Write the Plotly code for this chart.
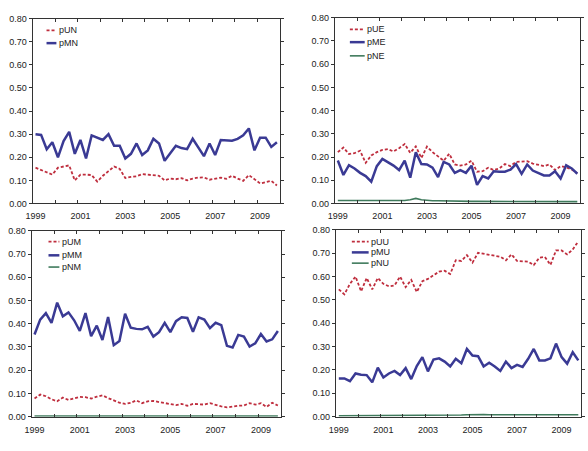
import plotly.graph_objects as go

W, H = 588, 451

years = ["1999", "2001", "2003", "2005", "2007", "2009"]
n_q = 44  # quarterly, 1999Q1 - 2009Q4
quarters = list(range(n_q))

pUN = [0.155,0.145,0.135,0.125,0.155,0.160,0.165,0.100,0.125,0.125,0.123,0.095,0.120,0.140,0.160,0.150,
       0.110,0.115,0.118,0.127,0.125,0.123,0.120,0.100,0.108,0.105,0.110,0.100,0.108,0.112,0.113,0.103,
       0.108,0.112,0.107,0.120,0.108,0.098,0.123,0.105,0.087,0.092,0.098,0.078]
pMN = [0.300,0.297,0.235,0.265,0.200,0.270,0.310,0.215,0.275,0.195,0.295,0.285,0.275,0.300,0.250,0.250,
       0.195,0.215,0.260,0.210,0.230,0.280,0.260,0.185,0.215,0.250,0.240,0.235,0.280,0.245,0.205,0.260,
       0.210,0.275,0.275,0.272,0.280,0.295,0.325,0.230,0.285,0.285,0.245,0.265]

pUE = [0.221,0.241,0.213,0.217,0.227,0.175,0.207,0.221,0.231,0.234,0.224,0.238,0.256,0.218,0.246,0.196,
       0.245,0.221,0.203,0.184,0.214,0.168,0.163,0.168,0.184,0.137,0.139,0.154,0.144,0.151,0.170,0.161,
       0.179,0.179,0.182,0.172,0.165,0.161,0.168,0.144,0.161,0.156,0.146,0.130]
pME = [0.185,0.123,0.165,0.151,0.132,0.118,0.094,0.161,0.192,0.179,0.163,0.144,0.185,0.111,0.221,0.170,
       0.168,0.154,0.114,0.179,0.168,0.132,0.144,0.132,0.163,0.080,0.118,0.108,0.139,0.137,0.137,0.146,
       0.170,0.128,0.168,0.142,0.132,0.121,0.121,0.139,0.108,0.165,0.151,0.128]
pNE = [0.013,0.013,0.012,0.012,0.013,0.011,0.014,0.012,0.013,0.012,0.013,0.012,0.013,0.016,0.022,0.016,
       0.013,0.012,0.012,0.011,0.011,0.011,0.010,0.010,0.009,0.009,0.009,0.009,0.008,0.008,0.008,0.009,
       0.008,0.009,0.009,0.010,0.010,0.009,0.009,0.008,0.009,0.010,0.009,0.008]

pUM = [0.078,0.095,0.088,0.075,0.066,0.082,0.072,0.080,0.085,0.084,0.078,0.086,0.092,0.080,0.070,0.060,
       0.055,0.060,0.070,0.058,0.066,0.068,0.063,0.058,0.054,0.050,0.055,0.047,0.055,0.052,0.052,0.058,
       0.050,0.044,0.040,0.044,0.047,0.048,0.058,0.052,0.058,0.042,0.060,0.048]
pMM = [0.354,0.418,0.446,0.404,0.491,0.432,0.449,0.415,0.369,0.446,0.347,0.392,0.330,0.429,0.308,0.326,
       0.443,0.383,0.378,0.376,0.387,0.345,0.364,0.404,0.364,0.411,0.428,0.425,0.366,0.428,0.418,0.381,
       0.404,0.394,0.305,0.298,0.352,0.345,0.302,0.316,0.356,0.324,0.333,0.369]
pNM = [0.003,0.003,0.003,0.003,0.003,0.003,0.003,0.003,0.003,0.003,0.003,0.003,0.003,0.003,0.003,0.003,
       0.003,0.003,0.003,0.003,0.003,0.003,0.003,0.003,0.003,0.003,0.003,0.003,0.003,0.003,0.003,0.003,
       0.003,0.003,0.003,0.003,0.003,0.003,0.003,0.003,0.003,0.004,0.004,0.003]

pUU = [0.545,0.524,0.569,0.600,0.537,0.594,0.545,0.594,0.569,0.558,0.562,0.600,0.555,0.586,0.534,0.580,
       0.590,0.604,0.621,0.625,0.611,0.670,0.667,0.692,0.660,0.702,0.698,0.695,0.688,0.685,0.670,0.695,
       0.667,0.664,0.664,0.649,0.681,0.684,0.650,0.712,0.712,0.695,0.716,0.751]
pMU = [0.164,0.164,0.152,0.185,0.180,0.178,0.147,0.210,0.168,0.185,0.196,0.178,0.208,0.161,0.217,0.255,
       0.194,0.245,0.250,0.236,0.215,0.248,0.229,0.290,0.262,0.259,0.215,0.231,0.215,0.196,0.236,0.208,
       0.222,0.213,0.248,0.290,0.241,0.241,0.250,0.313,0.255,0.227,0.276,0.241]
pNU = [0.004,0.004,0.004,0.004,0.005,0.005,0.005,0.005,0.005,0.005,0.006,0.006,0.006,0.006,0.006,0.006,
       0.006,0.006,0.006,0.007,0.007,0.007,0.007,0.008,0.009,0.010,0.009,0.008,0.008,0.007,0.007,0.007,
       0.007,0.007,0.007,0.007,0.007,0.007,0.008,0.008,0.008,0.008,0.008,0.008]

RED, BLUE, GREEN = "#bf2e3e", "#3a3a94", "#3f7a5c"
styles = {
    "U": dict(color=RED, width=1.8, dash="3px,2px"),
    "M": dict(color=BLUE, width=2.5),
    "N": dict(color=GREEN, width=1.6),
}

panels = [
    # (series list, pixel box x0,x1,y0(top),y1(bottom), legend x0,x1, legend ys)
    ([("pUN", pUN, "U"), ("pMN", pMN, "M")], (26, 276, 14, 203), (40, 50), (26, 39)),
    ([("pUE", pUE, "U"), ("pME", pME, "M"), ("pNE", pNE, "N")], (332, 580, 13, 203), (347, 362), (25, 38, 52)),
    ([("pUM", pUM, "U"), ("pMM", pMM, "M"), ("pNM", pNM, "N")], (25, 277, 231, 421), (42, 53), (242, 256, 268)),
    ([("pUU", pUU, "U"), ("pMU", pMU, "M"), ("pNU", pNU, "N")], (333, 581, 230, 421), (349, 366), (242, 253, 264)),
]

def px(x):
    return x / W

def py(y):
    return 1 - y / H

fig = go.Figure()
shapes, annotations = [], []
FONT = dict(family="Liberation Sans, Arial, sans-serif", size=9, color="#222")

for k, (series, box, lx, lys) in enumerate(panels, start=1):
    xa = "x" if k == 1 else f"x{k}"
    ya = "y" if k == 1 else f"y{k}"
    for name, vals, kind in series:
        fig.add_trace(go.Scatter(x=quarters, y=vals, mode="lines", name=name,
                                 line=styles[kind], xaxis=xa, yaxis=ya, showlegend=False))
    for (name, vals, kind), ly in zip(series, lys):
        shapes.append(dict(type="line", xref="paper", yref="paper",
                           x0=px(lx[0]), x1=px(lx[1]), y0=py(ly), y1=py(ly),
                           line=styles[kind]))
        annotations.append(dict(text=name, xref="paper", yref="paper", x=px(lx[1] + 0.5), y=py(ly),
                                xanchor="left", yanchor="middle", showarrow=False, font=FONT))
    x0, x1, y0, y1 = box
    axis_common = dict(showline=True, linecolor="#333", linewidth=1.3, mirror="ticks",
                       showgrid=False, zeroline=False, tickfont=FONT)
    fig.layout[f"xaxis{'' if k == 1 else k}"] = dict(
        domain=[px(x0), px(x1)], anchor=ya, range=[-0.5, n_q - 0.5],
        tickmode="array", tickvals=list(range(0, n_q, 8)), ticktext=years,
        ticks="", ticklabelstandoff=4,
        minor=dict(tickmode="array", tickvals=[i * 4 - 0.5 for i in range(1, 11)],
                   ticks="inside", ticklen=3, tickcolor="#333", tickwidth=1),
        **axis_common)
    fig.layout[f"yaxis{'' if k == 1 else k}"] = dict(
        domain=[py(y1), py(y0)], anchor=xa, range=[0, 0.8], dtick=0.1, tickformat=".2f",
        ticks="outside", ticklen=3, tickcolor="#333", **axis_common)

fig.update_layout(width=W, height=H, margin=dict(l=0, r=0, t=0, b=0),
                  paper_bgcolor="white", plot_bgcolor="white",
                  shapes=shapes, annotations=annotations, showlegend=False)

fig.write_html("out.html")
